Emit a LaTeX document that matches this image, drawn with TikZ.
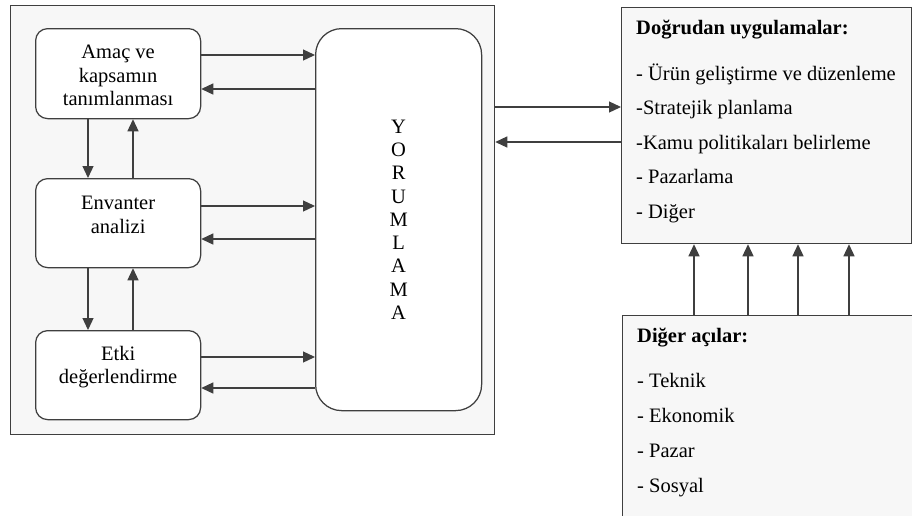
\documentclass[tikz,border=0pt]{standalone}
\usepackage{fontspec}
\setmainfont{Liberation Serif}
\usetikzlibrary{arrows.meta}
\definecolor{panelfill}{HTML}{F7F7F7}
\definecolor{edge}{HTML}{3F3F3F}
\begin{document}
\begin{tikzpicture}[x=1pt,y=-1pt,
  txt/.style={font=\fontsize{20.5pt}{23.5pt}\selectfont, text=black, inner sep=0pt},
  line/.style={draw=edge, line width=1.25pt},
  arr/.style={line, -{Triangle[length=12pt,width=11pt]}},
  panel/.style={line, fill=panelfill, inner sep=0pt, anchor=north west},
  stage/.style={line, fill=white, rounded corners=12pt, inner sep=0pt,
    minimum width=165pt, minimum height=90pt, anchor=north west},
  stagetext/.style={txt, align=center},
  item/.style={txt, anchor=base west}]
\useasboundingbox (0,0) rectangle (912,515);

% framed group on the left
\node[panel, minimum width=484pt, minimum height=429pt] (frame) at (10,5) {};

% three stages
\node[stage] (scope) at (35,28) {};
\node[stage, minimum height=89pt] (inv) at (35,178) {};
\node[stage, minimum height=89pt] (impact) at (35,330) {};
\node[stagetext] (scopet) at ([yshift=-2pt]scope.center) {Amaç ve\\kapsamın\\tanımlanması};
\node[stagetext] (invt) at ([yshift=8pt]inv.center) {Envanter\\analizi};
\node[stagetext] (impactt) at ([yshift=8pt]impact.center) {Etki\\değerlendirme};

% interpretation column
\node[line, fill=white, rounded corners=26pt, minimum width=166pt, minimum height=382pt,
  anchor=north west, inner sep=0pt] (interp) at (315,28) {};
\node[txt, align=center, font=\fontsize{20.5pt}{23.3pt}\selectfont] (interpt) at (interp.center)
  {Y\\O\\R\\U\\M\\L\\A\\M\\A};

% stage <-> interpretation
\draw[arr] (scope.east |- 0,55) -- (interp.west |- 0,55);
\draw[arr] (interp.west |- 0,89) -- (scope.east |- 0,89);
\draw[arr] (inv.east |- 0,206) -- (interp.west |- 0,206);
\draw[arr] (interp.west |- 0,239) -- (inv.east |- 0,239);
\draw[arr] (impact.east |- 0,357) -- (interp.west |- 0,357);
\draw[arr] (interp.west |- 0,388) -- (impact.east |- 0,388);

% stage <-> stage
\draw[arr] (scope.south -| 88,0) -- (inv.north -| 88,0);
\draw[arr] (inv.north -| 133,0) -- (scope.south -| 133,0);
\draw[arr] (inv.south -| 88,0) -- (impact.north -| 88,0);
\draw[arr] (impact.north -| 133,0) -- (inv.south -| 133,0);

% direct applications
\node[panel, minimum width=290pt, minimum height=236pt] (apps) at (621,7) {};
\node[item, font=\bfseries\fontsize{20.5pt}{23.5pt}\selectfont] (appsh) at (636,34) {Doğrudan uygulamalar:};
\node[item] (a1) at (636,80) {- Ürün geliştirme ve düzenleme};
\node[item] (a2) at (636,114.5) {-Stratejik planlama};
\node[item] (a3) at (636,149) {-Kamu politikaları belirleme};
\node[item] (a4) at (636,183.5) {- Pazarlama};
\node[item] (a5) at (636,218) {- Diğer};

\draw[arr] (frame.east |- 0,107) -- (apps.west |- 0,107);
\draw[arr] (apps.west |- 0,142) -- (frame.east |- 0,142);

% other aspects
\node[panel, minimum width=300pt, minimum height=215pt] (other) at (622,315) {};
\node[item, font=\bfseries\fontsize{20.5pt}{23.5pt}\selectfont] (otherh) at (637,342) {Diğer açılar:};
\node[item] (o1) at (637,387) {- Teknik};
\node[item] (o2) at (637,422) {- Ekonomik};
\node[item] (o3) at (637,457) {- Pazar};
\node[item] (o4) at (637,492) {- Sosyal};

\foreach \x in {694,748,798,849}
  \draw[arr] (other.north -| \x,0) -- (apps.south -| \x,0);
\end{tikzpicture}
\end{document}
